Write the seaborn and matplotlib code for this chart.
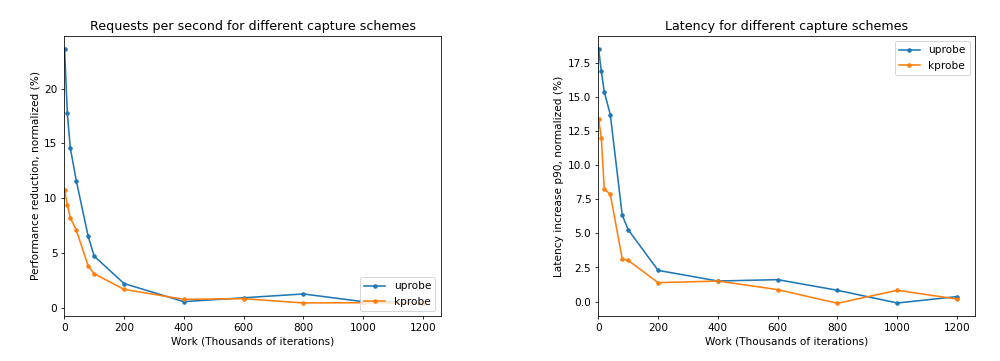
import matplotlib
matplotlib.use("Agg")
import matplotlib.pyplot as plt
import seaborn as sns
import pandas as pd

work = [1, 10, 20, 40, 80, 100, 200, 400, 600, 800, 1000, 1200]

rps_uprobe = [23.65, 17.8, 14.6, 11.6, 6.5, 4.7, 2.2, 0.55, 0.9, 1.25, 0.55, 0.45]
rps_kprobe = [10.7, 9.4, 8.2, 7.1, 3.8, 3.1, 1.67, 0.76, 0.82, 0.43, 0.45, 0.4]

lat_uprobe = [18.5, 16.87, 15.35, 13.7, 6.34, 5.26, 2.29, 1.51, 1.61, 0.83, -0.10, 0.37]
lat_kprobe = [13.38, 11.99, 8.24, 7.87, 3.12, 3.02, 1.39, 1.51, 0.88, -0.12, 0.83, 0.19]

series = ["uprobe", "kprobe"]
palette = {"uprobe": "#1f77b4", "kprobe": "#ff7f0e"}

plt.rcParams["font.size"] = 10.6
plt.rcParams["axes.titlesize"] = 12.7


def long_df(u, k):
    return pd.DataFrame({
        "work": work + work,
        "value": u + k,
        "scheme": [series[0]] * len(work) + [series[1]] * len(work),
    })


fig = plt.figure(figsize=(14, 5.054), dpi=71.43)
ax1 = fig.add_axes([0.0643, 0.1247, 0.3764, 0.7756])
ax2 = fig.add_axes([0.5983, 0.1247, 0.3767, 0.7756])

sns.lineplot(data=long_df(rps_uprobe, rps_kprobe), x="work", y="value", hue="scheme",
             palette=palette, marker=".", markersize=7, markeredgewidth=1,
             linewidth=1.6, ax=ax1)
sns.lineplot(data=long_df(lat_uprobe, lat_kprobe), x="work", y="value", hue="scheme",
             palette=palette, marker=".", markersize=7, markeredgewidth=1,
             linewidth=1.6, ax=ax2)

for ax in (ax1, ax2):
    for line in ax.get_lines():
        line.set_markeredgecolor(line.get_color())
    ax.set_xlim(left=0, right=1260)
    ax.set_xlabel("Work (Thousands of iterations)")
    ax.set_xticks([0, 200, 400, 600, 800, 1000, 1200])

ax1.set_ylim(-0.76, 24.8)
ax2.set_ylim(-1.05, 19.45)
ax1.set_title("Requests per second for different capture schemes")
ax2.set_title("Latency for different capture schemes")
ax1.set_ylabel("Performance reduction, normalized (%)")
ax2.set_ylabel("Latency increase p90, normalized (%)")

for ax, loc in ((ax1, "lower right"), (ax2, "upper right")):
    h, l = ax.get_legend_handles_labels()
    for hh in h:
        hh.set_markeredgecolor(hh.get_color())
    ax.legend(h, l, loc=loc, title=None)

fig.savefig("out.png", dpi=71.43)
